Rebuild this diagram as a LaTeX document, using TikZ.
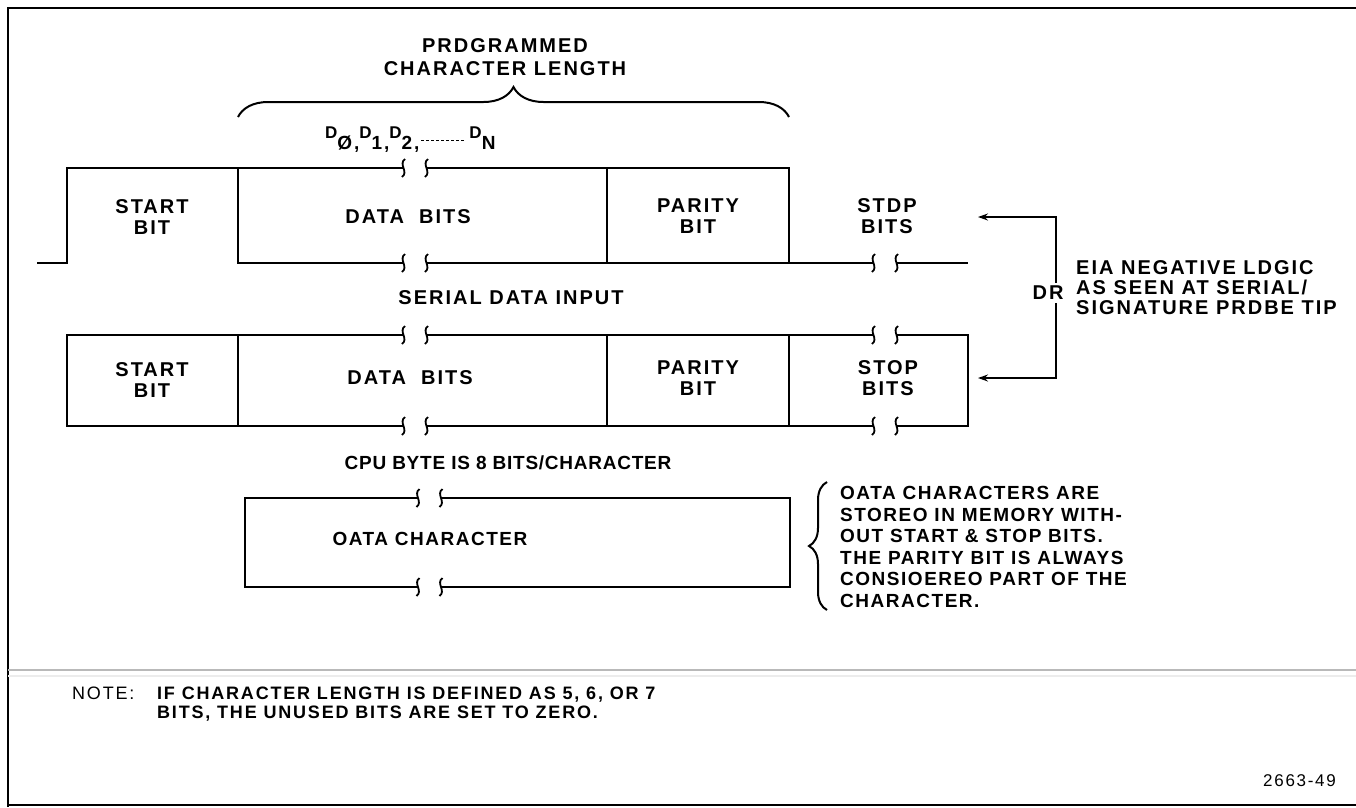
\documentclass[tikz,border=0pt]{standalone}
\usepackage{fontspec}
\setmainfont{Liberation Sans}[LetterSpace=10]
\newfontfamily\midfont{Liberation Sans}[LetterSpace=8]
\newfontfamily\narfont{Liberation Sans}[LetterSpace=4]
\usetikzlibrary{decorations.pathreplacing,arrows.meta}
\newcommand{\Dsub}[1]{\raisebox{-11pt}{\fontsize{19}{19}\selectfont #1}}
\newcommand{\Ddash}{\leaders\hbox to 5pt{\hss\rule[-3pt]{3pt}{1.1pt}\hss}\hskip 50pt\relax}
\begin{document}
\begin{tikzpicture}[x=1pt,y=-1pt,
  wl/.style={line width=2.2pt,line join=miter},
  sq/.style={line width=1.8pt},
  lbl/.style={font=\fontsize{20}{21}\selectfont\bfseries,align=center,inner sep=0pt},
  txt/.style={font=\midfont\fontsize{19}{21.5}\selectfont\bfseries,align=left,inner sep=0pt},
  brk/.pic={
    \draw[sq] (-10,-9) .. controls (-17,-4) and (-6,4) .. (-13,9);
    \draw[sq] (13,-9) .. controls (6,-4) and (17,4) .. (10,9);
  }]
\path[use as bounding box] (0,0) rectangle (1356,807);
% frame
\draw[line width=2.5pt] (1356,8) -- (8,8) -- (8,807);
\draw[line width=2.5pt] (8,805) -- (1356,805);
\draw[gray!55,line width=2pt] (8,670) -- (1356,670);
\draw[gray!15,line width=2pt] (8,676) -- (1356,676);

% title and brace
\node[lbl,font=\fontsize{20}{23}\selectfont\bfseries] (title) at (505,57) {PRDGRAMMED\\CHARACTER LENGTH};
\draw[line width=2pt,decorate,decoration={brace,amplitude=30pt}] (238,117) -- (789,117);
\node[inner sep=0pt,font=\fontsize{17}{17}\selectfont\bfseries,anchor=base west] (dlab) at (325,138)
  {D\Dsub{Ø,}D\Dsub{1,}D\Dsub{2,}\Ddash D\Dsub{N}};

% row 1 waveform
\draw[wl] (37,263) -- (67,263) -- (67,168) -- (403.5,168);
\draw[wl] (426.5,168) -- (789,168) -- (789,263);
\draw[wl] (238,168) -- (238,263) -- (403.5,263);
\draw[wl] (426.5,263) -- (873.5,263);
\draw[wl] (896.5,263) -- (968,263);
\draw[wl] (607,168) -- (607,263);
\pic at (415,168) {brk};
\pic at (415,263) {brk};
\pic at (885,263) {brk};
\node[lbl] (sb1) at (152,217) {START\\BIT};
\node[lbl] (db1) at (408,217) {DATA\ \ BITS};
\node[lbl] (pb1) at (698,216) {PARITY\\BIT};
\node[lbl] (st1) at (887,216) {STDP\\BITS};

\node[lbl] (sdi) at (511,298) {SERIAL DATA INPUT};

% row 2 box
\draw[wl] (403.5,335) -- (67,335) -- (67,426) -- (403.5,426);
\draw[wl] (426.5,335) -- (873.5,335);
\draw[wl] (896.5,335) -- (968,335) -- (968,426) -- (896.5,426);
\draw[wl] (426.5,426) -- (873.5,426);
\draw[wl] (238,335) -- (238,426);
\draw[wl] (607,335) -- (607,426);
\draw[wl] (789,335) -- (789,426);
\pic at (415,335) {brk};
\pic at (415,426) {brk};
\pic at (885,335) {brk};
\pic at (885,426) {brk};
\node[lbl] (sb2) at (152,380) {START\\BIT};
\node[lbl] (db2) at (410,378) {DATA\ \ BITS};
\node[lbl] (pb2) at (698,378) {PARITY\\BIT};
\node[lbl] (st2) at (888,378) {STOP\\BITS};

% DR arrows
\coordinate (drt) at (1056,217);
\coordinate (drb) at (1056,378);
\coordinate (a1) at (978,217);
\coordinate (a2) at (978,378);
\draw[line width=2pt,{Stealth[length=10pt,width=7pt]}-{Stealth[length=10pt,width=7pt]}] (a1) -- (drt) -- (drb) -- (a2);
\node[lbl,fill=white,inner sep=3pt] (dr) at (1048,293) {DR};
\node[lbl,anchor=west,align=left,font=\fontsize{20}{20}\selectfont\bfseries] (eia) at (1076,288) {EIA NEGATIVE LDGIC\\AS SEEN AT SERIAL/\\SIGNATURE PRDBE TIP};

% CPU byte box
\node[lbl,font=\narfont\fontsize{19}{21}\selectfont\bfseries] (cpu) at (508,463) {CPU BYTE IS 8 BITS/CHARACTER};
\draw[wl] (418,498) -- (245,498) -- (245,587) -- (418,587);
\draw[wl] (441,498) -- (790,498) -- (790,587) -- (441,587);
\pic at (429.5,498) {brk};
\pic at (429.5,587) {brk};
\node[txt] (oc) at (430,539) {OATA CHARACTER};
\draw[line width=2pt,decorate,decoration={brace,amplitude=18pt}] (827,610) -- (827,482);
\node[txt,anchor=west] (store) at (840,547) {OATA CHARACTERS ARE\\STOREO IN MEMORY WITH-\\OUT START \& STOP BITS.\\THE PARITY BIT IS ALWAYS\\CONSIOEREO PART OF THE\\CHARACTER.};

% note
\node[lbl,anchor=base west,font=\fontsize{18}{19}\selectfont\mdseries] (nt) at (72,699) {NOTE:};
\node[lbl,anchor=base west,font=\fontsize{18}{19}\selectfont\bfseries] (nt1) at (157,699) {IF CHARACTER LENGTH IS DEFINED AS 5, 6, OR 7};
\node[lbl,anchor=base west,font=\fontsize{18}{19}\selectfont\bfseries] (nt2) at (157,718) {BITS, THE UNUSED BITS ARE SET TO ZERO.};
\node[lbl,anchor=base east,font=\fontsize{17}{17}\selectfont\mdseries] (fig) at (1336,786) {2663-49};
\end{tikzpicture}
\end{document}
